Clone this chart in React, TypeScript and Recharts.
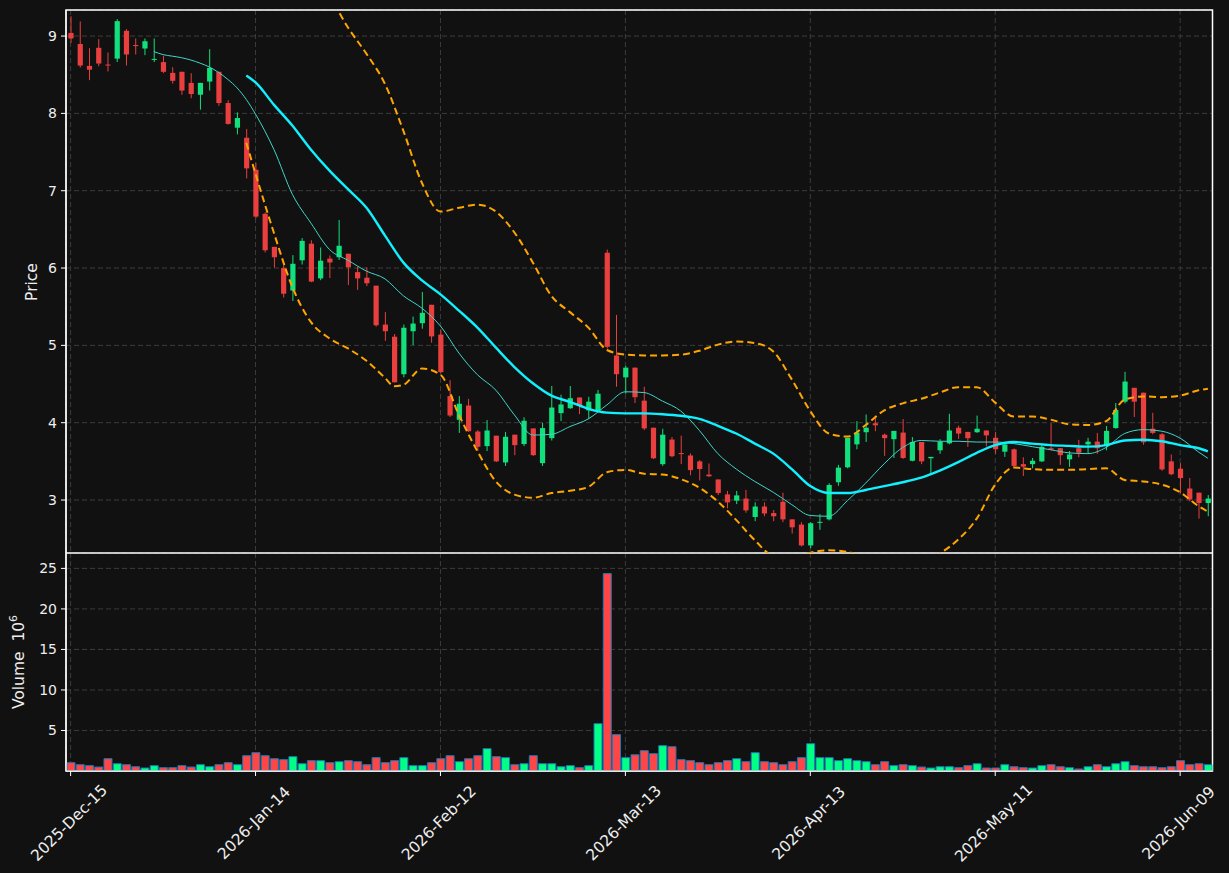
import React from 'react';
import { ComposedChart, Bar, Line, XAxis, YAxis, CartesianGrid, Cell, ReferenceArea } from 'recharts';

const opens = [
  9.041, 8.897, 8.614, 8.848, 8.632, 8.708, 9.068, 8.884, 8.839, 8.695,
  8.663, 8.524, 8.538, 8.394, 8.241, 8.412, 8.538, 8.134, 7.815, 7.685,
  7.271, 6.701, 6.274, 6.0, 5.709, 6.1, 6.315, 5.866, 6.122, 6.14,
  6.185, 5.947, 5.875, 5.772, 5.269, 5.112, 4.627, 5.183, 5.287, 5.525,
  5.139, 4.344, 4.038, 4.222, 3.886, 3.697, 3.832, 3.486, 3.845, 3.724,
  3.926, 3.477, 3.8, 4.124, 4.187, 4.326, 4.16, 4.16, 6.198, 4.869,
  4.586, 4.712, 4.285, 3.935, 3.464, 3.782, 3.607, 3.576, 3.5, 3.329,
  3.266, 3.073, 2.992, 3.019, 2.781, 2.916, 2.831, 2.978, 2.75, 2.682,
  2.413, 2.705, 2.75, 3.23, 3.423, 3.72, 3.877, 3.993, 3.845, 3.787,
  3.872, 3.508, 3.751, 3.54, 3.643, 3.733, 3.935, 3.881, 3.877, 3.899,
  3.805, 3.625, 3.656, 3.464, 3.464, 3.5, 3.67, 3.67, 3.526, 3.67,
  3.72, 3.755, 3.701, 3.931, 4.272, 4.451, 4.388, 3.922, 3.85, 3.5,
  3.405, 3.149, 3.095, 2.961,
];

const highs = [
  9.256, 9.189, 8.843, 8.96, 8.789, 9.22, 9.09, 8.969, 8.969, 8.969,
  8.744, 8.596, 8.538, 8.52, 8.394, 8.83, 8.538, 8.17, 8.012, 7.797,
  7.361, 6.72, 6.274, 6.036, 6.167, 6.387, 6.36, 6.266, 6.162, 6.62,
  6.185, 6.019, 6.01, 5.772, 5.43, 5.147, 5.269, 5.372, 5.691, 5.525,
  5.206, 4.55, 4.344, 4.308, 3.904, 4.034, 3.832, 3.881, 3.845, 4.07,
  3.926, 3.998, 4.474, 4.362, 4.474, 4.326, 4.335, 4.424, 6.239, 5.394,
  4.735, 4.712, 4.465, 3.935, 3.922, 3.814, 3.832, 3.603, 3.517, 3.473,
  3.266, 3.118, 3.118, 3.131, 2.97, 2.97, 2.871, 3.095, 2.75, 2.714,
  2.714, 2.817, 3.217, 3.455, 3.805, 4.02, 4.106, 4.092, 3.859, 3.894,
  4.047, 3.814, 3.751, 3.558, 3.787, 4.115, 3.962, 3.881, 4.092, 3.899,
  3.881, 3.746, 3.666, 3.553, 3.544, 3.715, 3.993, 3.67, 3.634, 3.778,
  3.805, 3.868, 3.957, 4.254, 4.658, 4.451, 4.388, 4.128, 3.868, 3.589,
  3.477, 3.284, 3.095, 3.064,
];

const lows = [
  8.91, 8.592, 8.43, 8.61, 8.542, 8.664, 8.62, 8.762, 8.753, 8.664,
  8.52, 8.385, 8.241, 8.196, 8.048, 8.295, 8.098, 7.855, 7.729, 7.159,
  6.643, 6.203, 6.005, 5.619, 5.574, 6.046, 5.817, 5.843, 5.87, 6.104,
  5.78, 5.718, 5.767, 5.242, 5.058, 4.519, 4.586, 5.004, 5.215, 5.035,
  4.64, 4.074, 3.868, 3.881, 3.634, 3.634, 3.491, 3.441, 3.58, 3.697,
  3.57, 3.441, 3.769, 4.02, 4.18, 4.11, 4.047, 4.128, 4.959, 4.465,
  4.375, 4.254, 3.904, 3.531, 3.441, 3.553, 3.464, 3.32, 3.253, 3.3,
  3.064, 2.893, 2.947, 2.835, 2.727, 2.79, 2.727, 2.714, 2.566, 2.4,
  2.377, 2.615, 2.736, 3.185, 3.41, 3.657, 3.751, 3.89, 3.571, 3.544,
  3.531, 3.5, 3.464, 3.329, 3.598, 3.72, 3.791, 3.688, 3.868, 3.693,
  3.598, 3.558, 3.432, 3.311, 3.41, 3.491, 3.643, 3.455, 3.428, 3.553,
  3.598, 3.598, 3.643, 3.922, 4.25, 4.074, 3.715, 3.85, 3.378, 3.32,
  3.087, 2.983, 2.759, 2.79,
];

const closes = [
  8.969, 8.619, 8.565, 8.645, 8.619, 9.193, 8.762, 8.87, 8.933, 8.704,
  8.538, 8.421, 8.295, 8.25, 8.394, 8.587, 8.134, 7.864, 7.94, 7.289,
  6.665, 6.23, 6.14, 5.668, 6.055, 6.351, 5.825, 6.095, 6.072, 6.288,
  6.01, 5.866, 5.803, 5.26, 5.183, 4.523, 5.228, 5.282, 5.421, 5.116,
  4.654, 4.093, 4.245, 3.89, 3.688, 3.899, 3.5, 3.818, 3.71, 4.025,
  3.58, 3.93, 4.196, 4.236, 4.317, 4.218, 4.272, 4.375, 4.981, 4.627,
  4.712, 4.33, 3.926, 3.54, 3.845, 3.567, 3.594, 3.387, 3.401, 3.307,
  3.091, 2.97, 3.06, 2.866, 2.916, 2.826, 2.79, 2.75, 2.647, 2.413,
  2.7, 2.718, 3.194, 3.419, 3.805, 3.872, 3.935, 3.966, 3.8, 3.894,
  3.544, 3.751, 3.5, 3.558, 3.755, 3.899, 3.859, 3.8, 3.922, 3.836,
  3.657, 3.719, 3.441, 3.432, 3.508, 3.688, 3.652, 3.58, 3.589, 3.612,
  3.755, 3.67, 3.894, 4.164, 4.532, 4.272, 3.747, 3.868, 3.396, 3.334,
  3.284, 3.006, 2.961, 3.019,
];

// volume, millions
const volumes = [
  1.03, 0.78, 0.66, 0.49, 1.52, 0.9, 0.78, 0.53, 0.37, 0.66,
  0.41, 0.41, 0.66, 0.49, 0.78, 0.53, 0.78, 1.03, 0.78, 1.89,
  2.26, 1.89, 1.52, 1.4, 1.77, 0.9, 1.28, 1.28, 1.03, 1.15,
  1.28, 1.15, 0.78, 1.65, 1.03, 1.28, 1.65, 0.66, 0.66, 1.03,
  1.52, 1.89, 1.15, 1.52, 1.89, 2.76, 1.77, 1.65, 0.78, 0.9,
  1.89, 0.9, 0.9, 0.53, 0.66, 0.41, 0.66, 5.84, 24.36, 4.49,
  1.65, 2.0, 2.51, 2.14, 3.13, 3.0, 1.4, 1.28, 1.03, 0.78,
  1.03, 1.28, 1.52, 1.15, 2.26, 1.15, 1.03, 0.78, 1.15, 1.65,
  3.37, 1.65, 1.65, 1.28, 1.52, 1.28, 1.15, 0.78, 1.15, 0.66,
  0.78, 0.66, 0.49, 0.37, 0.53, 0.53, 0.41, 0.66, 0.9, 0.37,
  0.37, 0.78, 0.53, 0.41, 0.37, 0.66, 0.78, 0.53, 0.41, 0.25,
  0.53, 0.78, 0.53, 0.9, 1.15, 0.66, 0.53, 0.53, 0.41, 0.53,
  1.28, 0.78, 0.9, 0.78,
];

// [candle index, value]
const ma10Points: [number, number][] = [
  [9, 8.8], [10, 8.76], [11, 8.74], [12, 8.72], [13, 8.69], [14, 8.65], [15, 8.6], [16, 8.53],
  [17, 8.44], [18, 8.33], [19, 8.18], [20, 7.99], [22, 7.53], [24, 6.95], [26, 6.58], [28, 6.24],
  [30, 6.1], [32, 5.96], [34, 5.86], [36, 5.64], [38, 5.48], [40, 5.25], [42, 4.9], [44, 4.62],
  [46, 4.42], [48, 4.1], [50, 3.84], [52, 3.85], [54, 3.95], [56, 4.05], [58, 4.23], [60, 4.4],
  [62, 4.39], [64, 4.28], [66, 4.15], [68, 3.9], [70, 3.6], [72, 3.4], [74, 3.24], [76, 3.1],
  [78, 2.94], [80, 2.8], [82, 2.79], [84, 2.99], [86, 3.22], [88, 3.47], [90, 3.68], [92, 3.77],
  [94, 3.76], [96, 3.76], [98, 3.75], [100, 3.75], [102, 3.73], [104, 3.69], [106, 3.65], [108, 3.61],
  [110, 3.6], [112, 3.68], [114, 3.86], [116, 3.91], [118, 3.89], [120, 3.8], [122, 3.62], [123, 3.54],
];

const ma20Points: [number, number][] = [
  [19, 8.49], [20, 8.4], [22, 8.11], [24, 7.84], [26, 7.53], [28, 7.26], [30, 7.02], [32, 6.78],
  [34, 6.42], [36, 6.07], [38, 5.84], [40, 5.66], [42, 5.45], [44, 5.23], [46, 4.97], [48, 4.72],
  [50, 4.51], [52, 4.35], [54, 4.27], [56, 4.18], [58, 4.13], [60, 4.12], [62, 4.12], [64, 4.11],
  [66, 4.09], [68, 4.05], [70, 3.96], [72, 3.86], [74, 3.73], [76, 3.6], [78, 3.4], [80, 3.18],
  [82, 3.09], [84, 3.09], [86, 3.13], [88, 3.18], [90, 3.23], [92, 3.29], [94, 3.38], [96, 3.49],
  [98, 3.61], [100, 3.71], [102, 3.75], [104, 3.73], [106, 3.71], [108, 3.7], [110, 3.69], [112, 3.71],
  [114, 3.77], [116, 3.78], [118, 3.76], [120, 3.71], [122, 3.67], [123, 3.63],
];

const bbUpperPoints: [number, number][] = [
  [19, 10.4], [20, 10.4], [22, 10.3], [24, 10.1], [26, 9.85], [28, 9.52], [30, 9.11], [32, 8.77],
  [34, 8.38], [36, 7.77], [38, 7.1], [40, 6.73], [42, 6.78], [44, 6.82], [46, 6.73], [48, 6.46],
  [50, 6.07], [52, 5.64], [54, 5.43], [56, 5.23], [58, 4.94], [60, 4.88], [62, 4.87], [64, 4.87],
  [66, 4.88], [68, 4.93], [70, 5.01], [72, 5.05], [74, 5.03], [76, 4.92], [78, 4.56], [80, 4.15],
  [82, 3.86], [84, 3.82], [86, 3.97], [88, 4.16], [90, 4.25], [92, 4.31], [94, 4.39], [96, 4.46],
  [98, 4.46], [100, 4.26], [102, 4.08], [104, 4.08], [106, 4.04], [108, 3.98], [110, 3.97], [112, 4.02],
  [114, 4.3], [116, 4.34], [118, 4.33], [120, 4.35], [122, 4.42], [123, 4.44],
];

const bbLowerPoints: [number, number][] = [
  [19, 7.62], [20, 7.22], [22, 6.45], [24, 5.75], [26, 5.3], [28, 5.09], [30, 4.96], [32, 4.8],
  [34, 4.58], [35, 4.47], [36, 4.49], [38, 4.7], [40, 4.62], [42, 4.1], [44, 3.63], [46, 3.24],
  [48, 3.07], [50, 3.03], [52, 3.09], [54, 3.12], [56, 3.17], [58, 3.36], [60, 3.39], [62, 3.34],
  [64, 3.33], [66, 3.27], [68, 3.16], [70, 2.98], [72, 2.74], [74, 2.48], [76, 2.28], [78, 2.26],
  [80, 2.32], [82, 2.35], [84, 2.33], [86, 2.25], [88, 2.18], [90, 2.15], [92, 2.2], [94, 2.31],
  [96, 2.49], [98, 2.76], [100, 3.2], [102, 3.42], [104, 3.4], [106, 3.39], [108, 3.39], [110, 3.4],
  [112, 3.41], [114, 3.26], [116, 3.24], [118, 3.2], [120, 3.1], [122, 2.92], [123, 2.85],
];

const tickIndex = [0, 20, 40, 60, 80, 100, 120];
const tickLabels = ['2025-Dec-15', '2026-Jan-14', '2026-Feb-12', '2026-Mar-13', '2026-Apr-13', '2026-May-11', '2026-Jun-09'];
const priceTicks = [3, 4, 5, 6, 7, 8, 9];
const volumeTicks = [5, 10, 15, 20, 25];

const BG = '#111111';
const UP = '#12e07c';
const DOWN = '#ea3f3f';
const VOL_UP = '#00ff85';
const VOL_DOWN = '#ff4646';
const GRID = '#3c3c3c';
const TEXT = '#eeeeee';
const FONT = 'DejaVu Sans';

const X_DOMAIN: [number, number] = [-0.5, 123.5];
const P_DOMAIN: [number, number] = [2.315, 9.337];
const V_DOMAIN: [number, number] = [0, 26.9];

type Row = {
  i: number; o: number; h: number; l: number; c: number;
  range: [number, number]; vol: number;
  ma10?: number; ma20?: number; upper?: number; lower?: number;
};

const data: Row[] = opens.map((o, i) => ({
  i, o, h: highs[i], l: lows[i], c: closes[i],
  range: [lows[i], highs[i]], vol: volumes[i],
}));
ma10Points.forEach(([i, v]) => { data[i].ma10 = v; });
ma20Points.forEach(([i, v]) => { data[i].ma20 = v; });
bbUpperPoints.forEach(([i, v]) => { data[i].upper = v; });
bbLowerPoints.forEach(([i, v]) => { data[i].lower = v; });

const Candle = (props: any) => {
  const { x, y, width, height, payload } = props;
  const { o, h, l, c } = payload;
  const cx = x + width / 2;
  const k = h > l ? height / (h - l) : 0;
  const top = y + (h - Math.max(o, c)) * k;
  const bot = y + (h - Math.min(o, c)) * k;
  const color = c >= o ? UP : DOWN;
  return (
    <g>
      <line x1={cx} x2={cx} y1={y} y2={y + height} stroke={color} strokeWidth={1} />
      <rect x={cx - 2.6} y={top} width={5.2} height={Math.max(bot - top, 1)} fill={color} />
    </g>
  );
};

const DateTick = (props: any) => {
  const { x, y, payload } = props;
  const label = tickLabels[tickIndex.indexOf(payload.value)];
  const cx = x - 1.5;
  const cy = y + 45;
  return (
    <text x={cx} y={cy} transform={`rotate(-45 ${cx} ${cy})`} textAnchor="middle"
      dominantBaseline="central" fill={TEXT} fontSize={15.5} fontFamily={FONT}>
      {label}
    </text>
  );
};

const axisTick = { fill: TEXT, fontSize: 14, fontFamily: FONT };

export default function App() {
  return (
    <div style={{ position: 'absolute', left: 0, top: 0, width: 1229, height: 873, background: BG, overflow: 'hidden' }}>
      <div style={{ position: 'absolute', left: 0, top: 0 }}>
        <ComposedChart width={1229} height={553} data={data} margin={{ top: 10, right: 16.5, bottom: 0, left: 0 }}>
          <CartesianGrid stroke={GRID} strokeDasharray="5 3" />
          <XAxis dataKey="i" type="number" domain={X_DOMAIN} ticks={tickIndex} allowDataOverflow hide />
          <YAxis domain={P_DOMAIN} ticks={priceTicks} allowDataOverflow width={66}
            tick={axisTick} axisLine={{ stroke: '#ffffff' }} tickLine={{ stroke: '#ffffff' }}
            tickSize={5} tickMargin={4} />
          <Bar dataKey="range" barSize={6} shape={<Candle />} isAnimationActive={false} />
          <Line type="monotone" dataKey="upper" stroke="#ffa500" strokeWidth={2} strokeDasharray="7 4" dot={false}
            connectNulls isAnimationActive={false} />
          <Line type="monotone" dataKey="lower" stroke="#ffa500" strokeWidth={2} strokeDasharray="7 4" dot={false}
            connectNulls isAnimationActive={false} />
          <Line type="monotone" dataKey="ma10" stroke="#3fd6c8" strokeWidth={1} dot={false} connectNulls
            isAnimationActive={false} />
          <Line type="monotone" dataKey="ma20" stroke="#10f0ff" strokeWidth={2.4} dot={false} connectNulls
            isAnimationActive={false} />
          <ReferenceArea x1={X_DOMAIN[0]} x2={X_DOMAIN[1]} y1={P_DOMAIN[0]} y2={P_DOMAIN[1]}
            fill="none" stroke="#ffffff" strokeWidth={1.5} ifOverflow="visible" />
        </ComposedChart>
      </div>
      <div style={{ position: 'absolute', left: 0, top: 553 }}>
        <ComposedChart width={1229} height={320} data={data} margin={{ top: 0, right: 16.5, bottom: 0, left: 0 }}>
          <CartesianGrid stroke={GRID} strokeDasharray="5 3" />
          <XAxis dataKey="i" type="number" domain={X_DOMAIN} ticks={tickIndex} allowDataOverflow
            height={102} axisLine={{ stroke: '#ffffff' }} tickLine={{ stroke: '#ffffff' }}
            tickSize={5} tick={<DateTick />} interval={0} />
          <YAxis domain={V_DOMAIN} ticks={volumeTicks} allowDataOverflow width={66}
            tick={axisTick} axisLine={{ stroke: '#ffffff' }} tickLine={{ stroke: '#ffffff' }}
            tickSize={5} tickMargin={4} />
          <Bar dataKey="vol" barSize={8} stroke="#1f77b4" strokeWidth={1} isAnimationActive={false}>
            {data.map((d) => (
              <Cell key={d.i} fill={d.c >= d.o ? VOL_UP : VOL_DOWN} />
            ))}
          </Bar>
          <ReferenceArea x1={X_DOMAIN[0]} x2={X_DOMAIN[1]} y1={V_DOMAIN[0]} y2={V_DOMAIN[1]}
            fill="none" stroke="#ffffff" strokeWidth={1.5} ifOverflow="visible" />
        </ComposedChart>
      </div>
      <svg width={60} height={873} style={{ position: 'absolute', left: 0, top: 0 }}>
        <text x={32} y={282} transform="rotate(-90 32 282)" textAnchor="middle" dominantBaseline="central"
          fill={TEXT} fontSize={15.5} fontFamily={FONT}>Price</text>
        <text x={19} y={662} transform="rotate(-90 19 662)" textAnchor="middle" dominantBaseline="central"
          fill={TEXT} fontSize={15.5} fontFamily={FONT}>
          {'Volume\u00a0\u00a010'}<tspan dy={-6} fontSize={11}>6</tspan>
        </text>
      </svg>
    </div>
  );
}
